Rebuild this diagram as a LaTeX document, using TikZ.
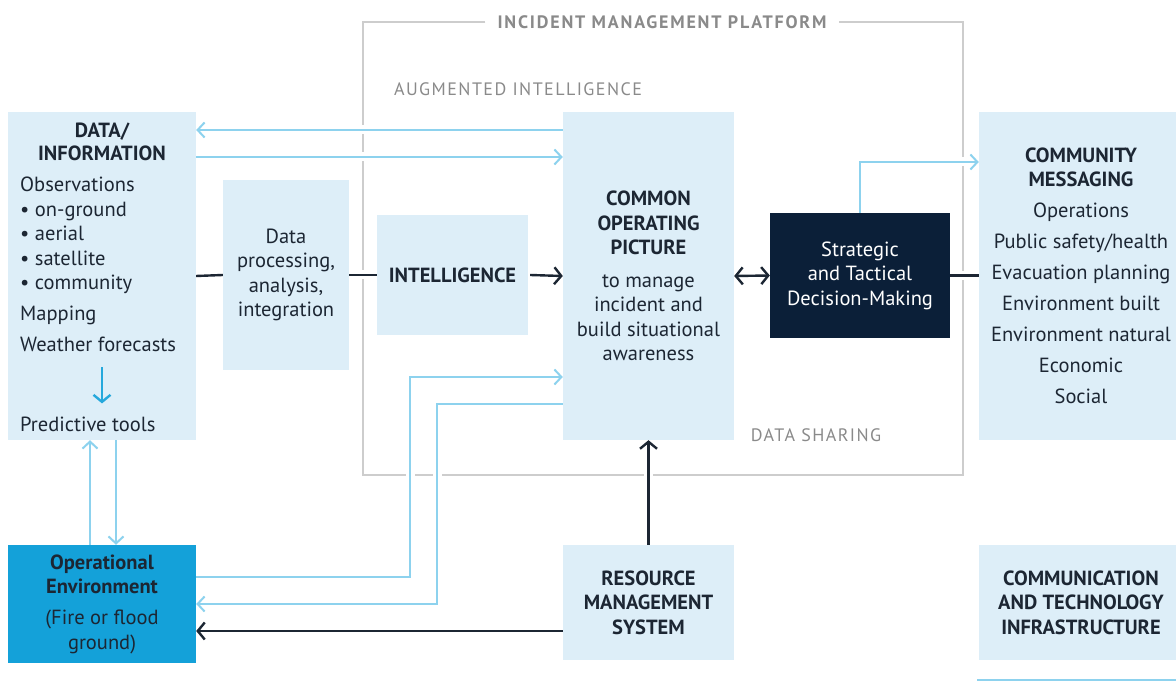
\documentclass[tikz,border=0pt]{standalone}
\usepackage{fontspec}
\setmainfont{PT Sans}
\usetikzlibrary{arrows.meta}

\definecolor{boxblue}{HTML}{DDEEF8}
\definecolor{opblue}{HTML}{14A1D9}
\definecolor{navy}{HTML}{0B1F38}
\definecolor{ink}{HTML}{1C2633}
\definecolor{linkblue}{HTML}{8DD2EE}
\definecolor{arrowblue}{HTML}{25A8DC}
\definecolor{framegrey}{HTML}{CDCDCD}
\definecolor{labelgrey}{HTML}{8A8A8A}

\begin{document}
\begin{tikzpicture}[x=1pt,y=-1pt,
        box/.style={fill=boxblue,draw=none,inner sep=0pt,align=center,text=ink,
                    font=\fontsize{20.5}{24.5}\selectfont},
        txt/.style={inner sep=0pt,text=ink,font=\fontsize{20.5}{24.5}\selectfont},
        grey label/.style={inner sep=0pt,text=labelgrey,
                           font=\fontsize{18}{20}\selectfont\addfontfeatures{LetterSpace=8}},
        frame/.style={draw=framegrey,line width=2pt},
        link/.style={draw=linkblue,line width=2pt},
        dark/.style={draw=ink,line width=2.4pt},
        crossing/.style={preaction={draw=white,line width=9pt,-}},
        ltip/.style={-{Straight Barb[length=7pt,width=15pt]}},
        dtip/.style={-{Straight Barb[length=7pt,width=17pt]}},
        dtips/.style={{Straight Barb[length=7pt,width=17pt]}-{Straight Barb[length=7pt,width=17pt]}}]

    \useasboundingbox [fill=white] (0,0) rectangle (1176,684);

    % boxes
    \node [box, minimum width=188, minimum height=328] (data) at (102,276) {};
    \node [box, minimum width=126, minimum height=190] (proc) at (286,275)
        {Data\\processing,\\analysis,\\integration};
    \node [box, minimum width=151, minimum height=120] (intel) at (452.5,275)
        {\bfseries INTELLIGENCE};
    \node [box, minimum width=171, minimum height=328] (cop) at (648.5,276)
        {\bfseries COMMON\\\bfseries OPERATING\\\bfseries PICTURE\\[8pt]
         to manage\\incident and\\build situational\\awareness};
    \node [box, fill=navy, text=white, minimum width=180, minimum height=125] (strat) at (860,275.5)
        {Strategic\\and Tactical\\Decision-Making};
    \node [box, minimum width=204, minimum height=328] (comm) at (1081,276)
        {\bfseries COMMUNITY\\\bfseries MESSAGING\\[6.5pt]Operations\\[6.5pt]Public safety/health\\[6.5pt]
         Evacuation planning\\[6.5pt]Environment built\\[6.5pt]Environment natural\\[6.5pt]
         Economic\\[6.5pt]Social};
    \node [box, fill=opblue, minimum width=188, minimum height=118] (op) at (102,604)
        {\bfseries Operational\\\bfseries Environment\\[6.5pt](Fire or flood\\ground)};
    \node [box, minimum width=171, minimum height=115] (rms) at (648.5,602.5)
        {\bfseries RESOURCE\\\bfseries MANAGEMENT\\\bfseries SYSTEM};
    \node [box, minimum width=204, minimum height=115] (infra) at (1081,602.5)
        {\bfseries COMMUNICATION\\\bfseries AND TECHNOLOGY\\\bfseries INFRASTRUCTURE};

    % text inside the data box
    \node [txt, align=center, font=\fontsize{20.5}{23}\selectfont\bfseries] (dhead) at (102,141.5)
        {DATA/\\INFORMATION};
    \node [txt, align=left, anchor=west] (dlist) at (20,264.5)
        {Observations\\\textbullet\ on-ground\\\textbullet\ aerial\\\textbullet\ satellite\\
         \textbullet\ community\\[6.5pt]Mapping\\[6.5pt]Weather forecasts};
    \node [txt, anchor=west] (dpred) at (20,424) {Predictive tools};

    % platform frame and labels
    \node [grey label, font=\fontsize{18}{20}\selectfont\bfseries\addfontfeatures{LetterSpace=10}]
        (platform) at (662,22) {INCIDENT MANAGEMENT PLATFORM};
    \node [grey label] (augmented) at (518,89) {AUGMENTED INTELLIGENCE};
    \node [grey label] (sharing) at (816,435) {DATA SHARING};
    \draw [frame] ([xshift=-12pt]platform.west) -- (363,22) -- (363,475) -- (963,475)
                  -- (963,22) -- ([xshift=12pt]platform.east);

    % connectors
    \draw [link, crossing, ltip] (cop.west |- 0,130) -- (data.east |- 0,130);
    \draw [link, crossing, ltip] (data.east |- 0,157) -- (cop.west |- 0,157);
    \draw [dark] (data.east) -- (proc.west);
    \draw [dark, crossing] (proc.east) -- (intel.west);
    \draw [dark, dtip] ([xshift=2pt]intel.east) -- (cop.west);
    \draw [dark, dtips] (cop.east) -- (strat.west);
    \draw [dark, crossing] (strat.east) -- (comm.west |- strat.east);
    \draw [link, crossing, ltip] (strat.north) |- (comm.west |- 0,162);
    \draw [arrowblue, line width=2.4pt, dtip, shorten <=15pt, shorten >=13pt]
        (data.center |- dlist.south) -- (data.center |- dpred.north);
    \draw [link, ltip] (90,0 |- op.north) -- (90,0 |- data.south);
    \draw [link, ltip] (116,0 |- data.south) -- (116,0 |- op.north);
    \draw [link, crossing, ltip] (op.east |- 0,577) -| (410,377) -- (cop.west |- 0,377);
    \draw [link, crossing, ltip] (cop.west |- 0,404) -| (437,604) -- (op.east |- 0,604);
    \draw [dark, crossing, dtip] (rms.north) -- (cop.south);
    \draw [dark, dtip] (rms.west |- 0,631) -- (op.east |- 0,631);
    \draw [link] (977,680) -- (1180,680);
\end{tikzpicture}
\end{document}
